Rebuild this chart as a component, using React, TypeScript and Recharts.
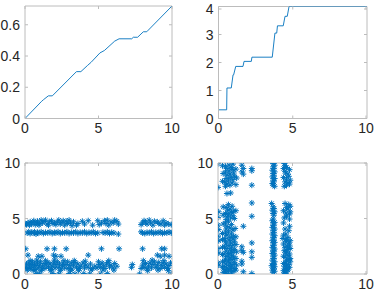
import React from 'react';
import {
  LineChart,
  Line,
  ScatterChart,
  Scatter,
  XAxis,
  YAxis,
  ReferenceLine,
} from 'recharts';

// top-left: slowly growing curve
const cumX = [0, 1.13, 1.25, 1.59, 1.86, 3.5, 3.8, 4.26, 4.5, 5.1, 5.4, 6.1, 6.4, 7.26, 7.37, 7.66, 8.05, 8.28, 10];
const cumY = [0, 0.11, 0.12, 0.145, 0.145, 0.3, 0.3, 0.34, 0.36, 0.42, 0.435, 0.495, 0.51, 0.51, 0.52, 0.52, 0.555, 0.555, 0.72];

// top-right: staircase
const stepX = [0, 0, 0.55, 0.57, 0.86, 0.98, 1.02, 1.16, 1.65, 1.72, 2.21, 2.25, 3.62, 3.8, 3.92, 3.97, 4.36, 4.48, 4.63, 4.75, 10];
const stepY = [0, 0.31, 0.31, 1.09, 1.09, 1.56, 1.56, 1.86, 1.86, 2.04, 2.04, 2.19, 2.19, 3.05, 3.05, 3.31, 3.31, 3.65, 3.65, 4, 4];

// bottom: one cloud of points, drawn as (x, y) and again as (y, x)
const bandTop: [number, number][] = [
  [0.05, 4.5], [0.1, 4.45], [0.2, 4.6], [0.3, 4.4], [0.35, 4.7], [0.45, 4.5], [0.55, 4.65], [0.6, 4.8],
  [0.7, 4.45], [0.8, 4.6], [0.85, 4.75], [0.95, 4.4], [1.0, 4.55], [1.1, 4.85], [1.2, 4.6], [1.3, 4.75],
  [1.4, 4.85], [1.5, 4.5], [1.6, 4.4], [1.65, 4.7], [1.8, 4.8], [1.9, 4.55], [2.0, 4.6], [2.1, 4.45],
  [2.2, 4.7], [2.3, 4.85], [2.4, 4.5], [2.5, 4.65], [2.6, 4.8], [2.7, 4.4], [2.8, 4.75], [2.9, 4.55],
  [3.0, 4.85], [3.1, 4.6], [3.2, 4.35], [3.3, 4.7], [3.5, 4.4], [3.6, 4.55], [3.9, 4.75], [4.05, 4.5],
  [4.3, 4.8], [4.6, 4.4], [4.95, 4.8], [5.05, 4.45], [5.2, 4.6], [5.4, 4.8], [5.5, 4.55], [5.6, 4.85],
  [5.7, 4.4], [5.85, 4.7], [6.0, 4.6], [6.1, 4.85], [6.25, 4.75], [6.35, 4.5], [7.9, 4.45], [8.0, 4.6],
  [8.1, 4.8], [8.2, 4.7], [8.3, 4.5], [8.45, 4.85], [8.55, 4.6], [8.7, 4.4], [8.8, 4.75], [9.0, 4.7],
  [9.1, 4.55], [9.25, 4.5], [9.4, 4.8], [9.5, 4.4], [9.6, 4.6], [9.75, 4.5], [9.95, 4.45],
];
const bandMid: [number, number][] = [
  [0.15, 3.7], [0.25, 3.8], [0.35, 3.65], [0.45, 3.75], [0.55, 3.7], [0.65, 3.8], [0.75, 3.6], [0.85, 3.75],
  [0.95, 3.7], [1.1, 3.8], [1.25, 3.65], [1.4, 3.75], [1.55, 3.7], [1.7, 3.8], [1.85, 3.65], [2.0, 3.75],
  [2.1, 3.7], [2.25, 3.8], [2.4, 3.65], [2.55, 3.75], [2.7, 3.7], [2.85, 3.8], [3.0, 3.65], [3.15, 3.75],
  [3.3, 3.7], [3.45, 3.8], [3.6, 3.65], [3.75, 3.75], [3.9, 3.7], [4.05, 3.8], [4.2, 3.65], [4.35, 3.75],
  [4.5, 3.7], [4.65, 3.8], [4.8, 3.65], [4.95, 3.7], [5.3, 3.75], [5.45, 3.7], [5.6, 3.8], [5.75, 3.65],
  [5.9, 3.75], [6.05, 3.7], [6.35, 3.6], [7.9, 3.8], [8.0, 3.7], [8.15, 3.65], [8.3, 3.75], [8.45, 3.7],
  [8.6, 3.8], [8.75, 3.65], [8.9, 3.75], [9.05, 3.7], [9.2, 3.8], [9.35, 3.65], [9.5, 3.75], [9.65, 3.7],
  [9.8, 3.8], [9.95, 3.7],
];
const bandSparse: [number, number][] = [
  [0.05, 2.27], [1.5, 2.27], [2.0, 2.27], [2.8, 2.27], [5.2, 2.27], [6.4, 2.27], [8.0, 2.27], [9.3, 2.27], [9.5, 2.27],
  [0.2, 1.7], [0.9, 1.6], [1.15, 1.6], [1.95, 1.7], [2.1, 1.6], [2.45, 1.6], [4.3, 1.7], [9.0, 1.7], [9.2, 1.6],
  [9.5, 1.7], [9.8, 1.6],
];
const bandLow: [number, number][] = [
  [0.05, 0.6], [0.1, 0.9], [0.2, 0.5], [0.25, 1.0], [0.3, 0.7], [0.4, 0.45], [0.45, 0.85], [0.5, 1.1],
  [0.55, 0.6], [0.65, 0.9], [0.7, 0.4], [0.75, 0.75], [0.85, 1.0], [0.9, 0.55], [1.0, 0.8], [1.05, 1.1],
  [1.15, 0.45], [1.2, 0.7], [1.3, 0.95], [1.35, 0.5], [1.45, 0.8], [1.55, 1.05], [1.6, 0.6], [1.7, 0.9],
  [1.8, 0.4], [1.85, 0.7], [1.95, 1.0], [2.05, 0.55], [2.1, 0.85], [2.2, 1.1], [2.3, 0.6], [2.35, 0.9],
  [2.45, 0.45], [2.55, 0.75], [2.6, 1.0], [2.7, 0.55], [2.8, 0.85], [2.9, 1.1], [2.95, 0.5], [3.05, 0.75],
  [3.15, 1.0], [3.2, 0.45], [3.3, 0.8], [3.4, 1.05], [3.5, 0.6], [3.6, 0.9], [3.7, 0.5], [3.8, 0.7],
  [3.95, 1.0], [4.05, 0.55], [4.15, 0.8], [4.3, 0.6], [4.45, 0.9], [4.6, 0.5], [4.75, 0.7], [4.9, 0.55],
  [5.05, 0.85], [5.15, 0.6], [5.25, 1.0], [5.35, 0.7], [5.45, 0.5], [5.55, 0.9], [5.65, 1.05], [5.75, 0.65],
  [5.85, 0.8], [6.0, 0.55], [6.1, 0.95], [6.25, 0.7], [7.25, 0.6], [7.3, 0.85], [7.9, 0.5], [8.0, 0.8],
  [8.1, 0.6], [8.2, 0.95], [8.3, 0.45], [8.4, 0.7], [8.5, 1.0], [8.6, 0.55], [8.7, 0.85], [8.8, 1.1],
  [8.9, 0.6], [9.0, 0.8], [9.1, 1.05], [9.2, 0.5], [9.3, 0.75], [9.4, 1.0], [9.5, 0.6], [9.6, 0.9],
  [9.7, 0.5], [9.8, 0.75], [9.9, 1.0],
  [0.15, 0.35], [0.35, 1.2], [0.6, 0.3], [0.8, 1.25], [1.1, 0.3], [1.4, 1.2], [1.75, 0.3], [2.0, 1.25],
  [2.4, 0.3], [2.65, 1.2], [3.1, 0.3], [3.35, 1.2], [3.65, 0.3], [4.1, 1.15], [4.5, 0.35], [5.0, 1.1],
  [5.3, 0.35], [5.7, 1.2], [6.05, 0.35], [8.05, 1.2], [8.35, 0.3], [8.65, 1.25], [9.05, 0.35], [9.45, 1.2],
  [9.75, 0.3],
];
const bandZero: [number, number][] = [
  [0.8, 0.05], [1.0, 0.0], [1.9, 0.05], [2.3, 0.0], [3.0, 0.05], [3.4, 0.0], [4.0, 0.05], [4.4, 0.0],
  [5.1, 0.0], [5.6, 0.05], [7.8, 0.0], [9.95, 0.0],
];

const xTicks = [0, 5, 10];
const cumTicks = [0, 0.2, 0.4, 0.6];
const stepTicks = [0, 1, 2, 3, 4];
const cloudTicks = [0, 5, 10];

const cumData = cumX.map((x, i) => ({ x, y: cumY[i] }));
const stepData = stepX.map((x, i) => ({ x, y: stepY[i] }));
const cloud = [...bandTop, ...bandMid, ...bandSparse, ...bandLow, ...bandZero].map(([x, y]) => ({ x, y }));

const BLUE = '#0072BD';
const BOX = '#bcbcbc';
const TEXT = '#262626';
const FONT = '"Liberation Sans", Arial, sans-serif';
const FS = 14;
const TICK = 3;

// x tick: label under the axis, small inward marks at the bottom and top of the box
const makeXTick = (top: number) => (p: any) => {
  const { x, y, payload } = p;
  const axisY = y - 4;
  return (
    <g>
      <line x1={x} x2={x} y1={axisY} y2={axisY - TICK} stroke={BOX} />
      <line x1={x} x2={x} y1={top} y2={top + TICK} stroke={BOX} />
      <text x={x} y={y} dy="0.75em" textAnchor="middle" fill={TEXT} fontSize={FS} fontFamily={FONT}>
        {payload.value}
      </text>
    </g>
  );
};

const makeYTick = (right: number) => (p: any) => {
  const { x, y, payload } = p;
  const axisX = x + 5;
  return (
    <g>
      <line x1={axisX} x2={axisX + TICK} y1={y} y2={y} stroke={BOX} />
      <line x1={right} x2={right - TICK} y1={y} y2={y} stroke={BOX} />
      <text x={x} y={y} dy="0.36em" textAnchor="end" fill={TEXT} fontSize={FS} fontFamily={FONT}>
        {payload.value}
      </text>
    </g>
  );
};

const Asterisk = (p: any) => {
  const { cx, cy } = p;
  if (cx == null || cy == null) return null;
  const r = 3;
  const d = 2.1;
  return (
    <path
      d={`M${cx - r},${cy}L${cx + r},${cy}M${cx},${cy - r}L${cx},${cy + r}M${cx - d},${cy - d}L${cx + d},${cy + d}M${cx - d},${cy + d}L${cx + d},${cy - d}`}
      stroke={BLUE}
      strokeWidth={1}
      fill="none"
    />
  );
};

const W = 187;

export default function App() {
  return (
    <div style={{ position: 'absolute', left: 0, top: 0, width: 374, height: 295, background: '#fff' }}>
      <div style={{ position: 'absolute', left: 0, top: 0 }}>
        <LineChart width={W} height={148} data={cumData} margin={{ top: 6, right: 15, left: 0, bottom: 0 }}>
          <XAxis dataKey="x" type="number" domain={[0, 10]} ticks={xTicks} height={29.5} stroke={BOX}
            tickSize={0} tickMargin={4} tick={makeXTick(6)} allowDataOverflow />
          <YAxis type="number" domain={[0, 0.72]} ticks={cumTicks} width={25} stroke={BOX}
            tickSize={0} tickMargin={5} tick={makeYTick(172)} allowDataOverflow />
          <ReferenceLine x={10} stroke={BOX} />
          <ReferenceLine y={0.72} stroke={BOX} />
          <Line dataKey="y" stroke={BLUE} strokeWidth={0.9} dot={false} type="linear" isAnimationActive={false} />
        </LineChart>
      </div>
      <div style={{ position: 'absolute', left: W, top: 0 }}>
        <LineChart width={W} height={148} data={stepData} margin={{ top: 6.5, right: 7, left: 0, bottom: 0 }}>
          <XAxis dataKey="x" type="number" domain={[0, 10]} ticks={xTicks} height={29.5} stroke={BOX}
            tickSize={0} tickMargin={4} tick={makeXTick(6.5)} allowDataOverflow />
          <YAxis type="number" domain={[0, 4]} ticks={stepTicks} width={31.5} stroke={BOX}
            tickSize={0} tickMargin={5} tick={makeYTick(180)} allowDataOverflow />
          <ReferenceLine x={10} stroke={BOX} />
          <ReferenceLine y={4} stroke={BOX} />
          <Line dataKey="y" stroke={BLUE} strokeWidth={0.9} dot={false} type="linear" isAnimationActive={false} />
        </LineChart>
      </div>
      <div style={{ position: 'absolute', left: 0, top: 148 }}>
        <ScatterChart width={W} height={147} margin={{ top: 15, right: 15, left: 0, bottom: 0 }}>
          <XAxis dataKey="x" type="number" domain={[0, 10]} ticks={xTicks} height={21} stroke={BOX}
            tickSize={0} tickMargin={4} tick={makeXTick(15)} allowDataOverflow />
          <YAxis dataKey="y" type="number" domain={[0, 10]} ticks={cloudTicks} width={25} stroke={BOX}
            tickSize={0} tickMargin={5} tick={makeYTick(172)} allowDataOverflow />
          <ReferenceLine x={10} stroke={BOX} />
          <ReferenceLine y={10} stroke={BOX} />
          <Scatter data={cloud} shape={Asterisk} isAnimationActive={false} />
        </ScatterChart>
      </div>
      <div style={{ position: 'absolute', left: W, top: 148 }}>
        <ScatterChart width={W} height={147} margin={{ top: 15, right: 7, left: 0, bottom: 0 }}>
          <XAxis dataKey="y" type="number" domain={[0, 10]} ticks={xTicks} height={21} stroke={BOX}
            tickSize={0} tickMargin={4} tick={makeXTick(15)} allowDataOverflow />
          <YAxis dataKey="x" type="number" domain={[0, 10]} ticks={cloudTicks} width={31} stroke={BOX}
            tickSize={0} tickMargin={5} tick={makeYTick(180)} allowDataOverflow />
          <ReferenceLine x={10} stroke={BOX} />
          <ReferenceLine y={10} stroke={BOX} />
          <Scatter data={cloud} shape={Asterisk} isAnimationActive={false} />
        </ScatterChart>
      </div>
    </div>
  );
}
